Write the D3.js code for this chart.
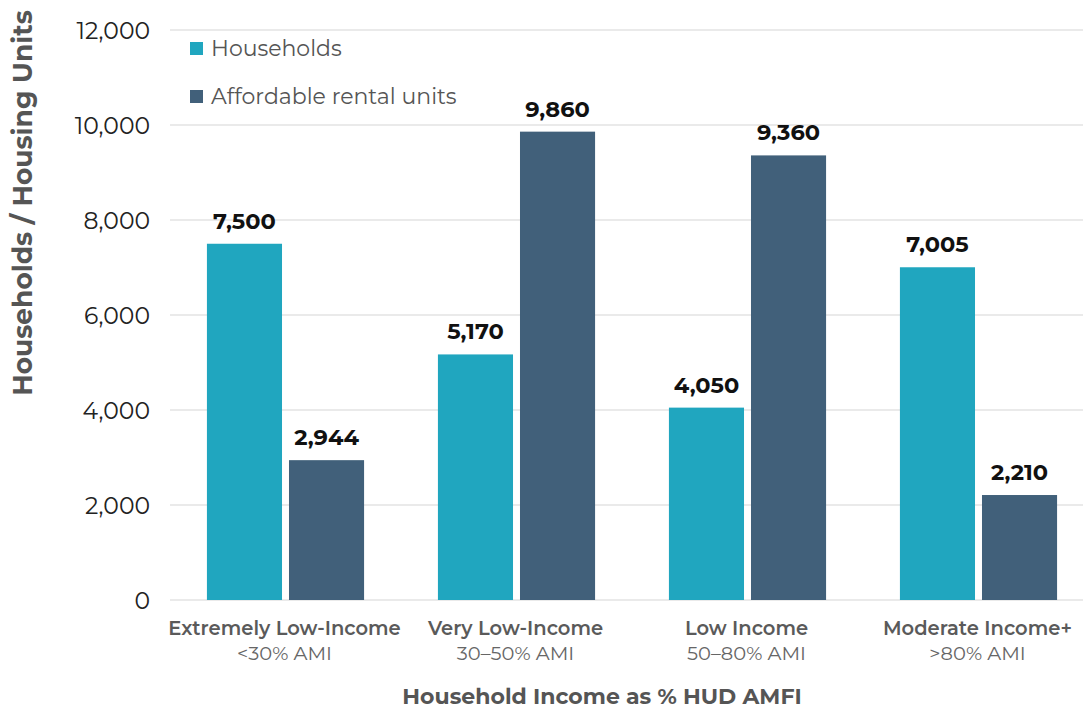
<!DOCTYPE html>
<html><head><meta charset="utf-8">
<script src="https://cdn.jsdelivr.net/npm/d3@7"></script>
<style>body{margin:0;background:#fff;} svg{display:block;}</style>
</head><body>
<svg id="c" width="1083" height="711"></svg>
<script>
const categories = ["Extremely Low-Income","Very Low-Income","Low Income","Moderate Income+"];
const subLabels = ["<30% AMI","30–50% AMI","50–80% AMI",">80% AMI"];
const seriesNames = ["Households","Affordable rental units"];
const households = [7500, 5170, 4050, 7005];
const rentalUnits = [2944, 9860, 9360, 2210];
const yTicks = [0,2000,4000,6000,8000,10000,12000];
const colors = ["#20A6BF","#41607A"];

(function(){
const font = "Montserrat, 'Noto Sans', 'DejaVu Sans', sans-serif";
const svg = d3.select("#c");
const mLeft = 170, mRight = 1094, mTop = 30, mBottom = 600;
const x = d3.scaleBand().domain(categories).range([mLeft, mRight]).paddingInner(0).paddingOuter(0);
const x1 = d3.scaleBand().domain(seriesNames).range([0, x.bandwidth()]).paddingInner(0.085).paddingOuter(0.45);
const y = d3.scaleLinear().domain([0,12000]).range([mBottom, mTop]);

// gridlines
svg.append("g").selectAll("line").data(yTicks).join("line")
  .attr("x1", mLeft).attr("x2", 1083).attr("y1", d=>y(d)).attr("y2", d=>y(d))
  .attr("stroke", "#e3e3e3").attr("stroke-width", 1.5);

// y axis labels
const yAxis = d3.axisLeft(y).tickValues(yTicks).tickFormat(d3.format(",")).tickSize(0).tickPadding(20);
const ga = svg.append("g").attr("transform", `translate(${mLeft},0)`).call(yAxis);
ga.select(".domain").remove();
ga.selectAll("text").attr("font-family", font).attr("font-size", 23.5).attr("fill", "#222").attr("dy","0.35em");

const data = categories.map((c,i)=>({cat:c, vals:[households[i], rentalUnits[i]]}));
const groups = svg.append("g").selectAll("g").data(data).join("g")
  .attr("transform", d=>`translate(${x(d.cat)},0)`);
groups.selectAll("rect").data(d=>d.vals.map((v,j)=>({v, s:seriesNames[j], j}))).join("rect")
  .attr("x", d=>x1(d.s)).attr("width", x1.bandwidth())
  .attr("y", d=>y(d.v)).attr("height", d=>y(0)-y(d.v))
  .attr("fill", d=>colors[d.j]);
groups.selectAll("text.val").data(d=>d.vals.map((v,j)=>({v, s:seriesNames[j], j}))).join("text")
  .attr("class","val")
  .attr("x", d=>x1(d.s)+x1.bandwidth()/2).attr("y", d=>y(d.v)-15)
  .attr("text-anchor","middle").attr("font-family", font).attr("font-weight","bold")
  .attr("font-size", 22.5).attr("fill","#111").text(d=>d3.format(",")(d.v));

// x category labels
const xl = svg.append("g");
categories.forEach((c,i)=>{
  const cx = x(c)+x.bandwidth()/2 - 1;
  xl.append("text").attr("x", cx).attr("y", 635).attr("text-anchor","middle")
    .attr("font-family", font).attr("font-size", 19.5).attr("font-weight", 600).attr("fill","#5a5a5a").text(c);
  xl.append("text").attr("x", cx).attr("y", 660).attr("text-anchor","middle")
    .attr("font-family", font).attr("font-size", 19.5).attr("fill","#666").text(subLabels[i]);
});

// axis titles
svg.append("text").attr("x", 602).attr("y", 704).attr("text-anchor","middle")
  .attr("font-family", font).attr("font-weight","bold").attr("font-size", 22).attr("fill","#555")
  .text("Household Income as % HUD AMFI");
svg.append("text").attr("transform","translate(32,203) rotate(-90)").attr("text-anchor","middle")
  .attr("font-family", font).attr("font-weight","bold").attr("font-size", 26.5).attr("fill","#555")
  .text("Households / Housing Units");

// legend
const lg = svg.append("g");
seriesNames.forEach((s,i)=>{
  lg.append("rect").attr("x",190).attr("y",42+i*48).attr("width",13).attr("height",13).attr("fill",colors[i]);
  lg.append("text").attr("x",211).attr("y",56+i*48).attr("font-family",font).attr("font-size",22)
    .attr("fill","#555").text(s);
});
})();
</script>
</body></html>
